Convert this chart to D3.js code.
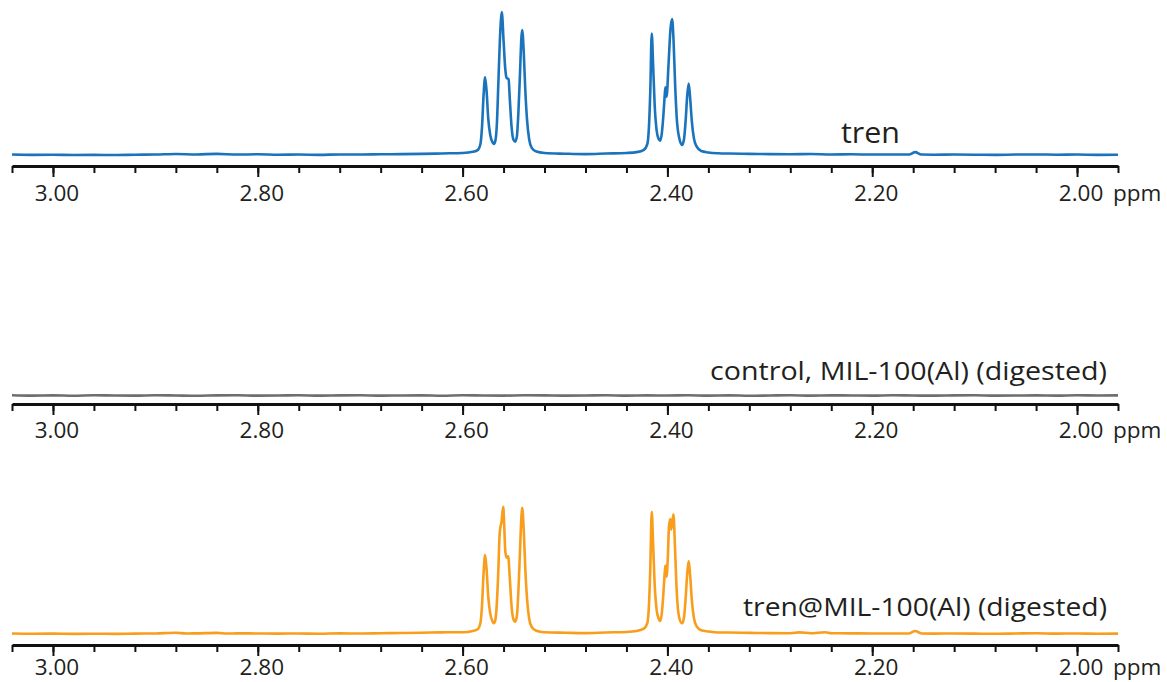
<!DOCTYPE html>
<html>
<head>
<meta charset="utf-8">
<script src="https://cdn.jsdelivr.net/npm/d3@7"></script>
<style>
  html, body { margin: 0; padding: 0; background: #fff; }
  svg { display: block; font-family: "Open Sans", "Noto Sans", sans-serif; }
  .spec { fill: none; stroke-width: 2.6; stroke-linejoin: round; }
  .lbl { fill: #231f20; }
</style>
</head>
<body>
<svg id="chart" width="1167" height="682"></svg>
<script>
// --- data: chemical shift (ppm), relative intensity ---
const ppmDomain = [3.04, 1.96];
const majorTicks = [3.00, 2.80, 2.60, 2.40, 2.20, 2.00];
const unitLabel = 'ppm';
const seriesNames = ['tren', 'control, MIL-100(Al) (digested)', 'tren@MIL-100(Al) (digested)'];

const trenBaseline = [
  [3.04,0.3],[3.02,0.1],[3.00,0.2],[2.98,0.0],[2.96,0.1],[2.94,0.0],[2.92,0.2],[2.90,0.3],
  [2.88,0.7],[2.86,0.4],[2.84,0.8],[2.82,0.3],[2.80,0.5],[2.78,0.2],[2.76,0.3],[2.74,0.1],
  [2.72,0.4],[2.70,0.3],[2.68,0.5],[2.66,0.6],[2.64,0.8],[2.62,1.1],
  [2.50,0.9],[2.48,0.6],[2.46,1.0],
  [2.34,1.0],[2.32,0.8],[2.30,0.6],[2.28,0.5],[2.26,0.7],[2.24,0.4],[2.22,0.5],[2.20,0.3],
  [2.18,0.4],[2.164,0.3],[2.158,2.0],[2.152,0.3],[2.14,0.2],[2.12,0.3],[2.10,0.2],[2.08,0.1],
  [2.06,0.3],[2.04,0.4],[2.02,0.2],[2.00,0.3],[1.98,0.1],[1.96,0.2]
];
const trenPeaksA = [
  [2.600,1.4],[2.590,2.2],[2.585,3.6],[2.5825,8],[2.5810,20],[2.5795,42],[2.578,54.3],[2.5765,44],[2.575,26],
  [2.573,14],[2.5705,8.6],[2.5695,7.7],[2.568,10],[2.5665,22],[2.5650,52],[2.5636,80],[2.5617,100],[2.5600,80],[2.5583,60],
  [2.5571,54],[2.5551,53],[2.5538,38],[2.5522,20],[2.5505,11],[2.5486,9.3],[2.5470,13],[2.5455,30],[2.5440,56],[2.5425,83],
  [2.5418,87.4],[2.5403,72],[2.5388,46],[2.5370,24],[2.5350,11],[2.5325,5],[2.5280,2.4],[2.5200,1.4]
];
const trenPeaksB = [
  [2.440,1.4],[2.430,2.0],[2.423,3.6],[2.4195,8],[2.4180,20],[2.4167,45],[2.4153,85],[2.4140,64],[2.4125,36],
  [2.4105,17],[2.4085,11],[2.4071,10],[2.4055,15],[2.4040,27],[2.4028,40],[2.4020,47.3],[2.4008,40.8],[2.3990,62],[2.3970,88],
  [2.3954,95],[2.3940,80],[2.3925,50],[2.3908,25],[2.3885,12],[2.3857,7],[2.3838,11],[2.3822,24],[2.3806,42],[2.3792,50],
  [2.3778,40],[2.3762,24],[2.3742,12],[2.3715,6],[2.3670,2.8],[2.3600,1.8],[2.3500,1.2]
];

const controlTrace = [
  [3.04,0.2],[3.02,-0.1],[3.00,0.1],[2.98,-0.2],[2.96,0.2],[2.94,0.0],[2.92,-0.1],[2.90,0.2],
  [2.88,0.0],[2.86,-0.2],[2.84,0.1],[2.82,0.2],[2.80,-0.1],[2.78,0.0],[2.76,0.2],[2.74,-0.1],
  [2.72,0.1],[2.70,0.2],[2.68,-0.1],[2.66,0.0],[2.64,0.1],[2.62,-0.2],[2.60,0.2],[2.58,0.0],
  [2.56,-0.1],[2.54,0.2],[2.52,0.1],[2.50,-0.1],[2.48,0.0],[2.46,0.2],[2.44,-0.1],[2.42,0.1],
  [2.40,0.0],[2.38,0.2],[2.36,-0.1],[2.34,0.1],[2.32,-0.2],[2.30,0.0],[2.28,0.2],[2.26,-0.1],
  [2.24,0.1],[2.22,0.0],[2.20,-0.1],[2.18,0.2],[2.16,0.0],[2.14,-0.1],[2.12,0.1],[2.10,0.2],
  [2.08,-0.1],[2.06,0.0],[2.04,0.1],[2.02,-0.1],[2.00,0.2],[1.98,0.0],[1.96,0.1]
];

const loadedBaseline = [
  [3.04,0.4],[3.02,0.2],[3.00,0.3],[2.98,0.1],[2.96,0.2],[2.94,0.1],[2.92,0.3],[2.90,0.4],
  [2.88,1.0],[2.87,0.4],[2.86,0.5],[2.84,0.9],[2.83,0.4],[2.82,0.5],[2.80,0.4],[2.78,0.3],
  [2.76,0.4],[2.74,0.2],[2.72,0.5],[2.70,0.4],[2.68,0.6],[2.66,0.8],[2.64,1.0],[2.62,1.3],
  [2.50,1.0],[2.48,0.7],[2.46,1.2],
  [2.34,1.2],[2.32,0.9],[2.30,0.7],[2.28,0.6],[2.271,1.3],[2.26,0.6],[2.246,1.4],[2.24,0.6],
  [2.22,0.5],[2.20,0.4],[2.18,0.4],[2.164,0.4],[2.158,2.4],[2.152,0.4],[2.14,0.3],[2.12,0.4],
  [2.10,0.3],[2.08,0.2],[2.06,0.4],[2.04,0.6],[2.02,0.3],[2.00,0.4],[1.98,0.2],[1.96,0.3]
];
const loadedPeaksA = [
  [2.600,1.4],[2.590,2.4],[2.585,4.0],[2.5825,9],[2.5810,23],[2.5795,48],[2.578,62],[2.5765,50],[2.575,30],
  [2.573,16],[2.5705,9.5],[2.5695,8.4],[2.568,11],[2.5665,25],[2.5650,52],[2.5640,76],[2.5634,82],[2.5620,88],[2.5603,100],
  [2.5593,84],[2.5583,65],[2.5570,60],[2.5555,61],[2.5540,45],[2.5522,22],[2.5505,12],[2.5486,9.7],[2.5470,14],[2.5455,34],
  [2.5440,64],[2.5425,93],[2.5418,99.2],[2.5403,82],[2.5388,52],[2.5370,27],[2.5350,12],[2.5325,5.5],[2.5280,2.6],
  [2.5200,1.4]
];
const loadedPeaksB = [
  [2.440,1.6],[2.430,2.4],[2.423,4.2],[2.4195,9],[2.4180,23],[2.4167,52],[2.4153,96],[2.4140,72],[2.4125,40],
  [2.4105,19],[2.4085,12],[2.4071,10.2],[2.4055,16],[2.4040,31],[2.4028,46],[2.4020,53.7],[2.4008,45],[2.3995,62],[2.3985,84],
  [2.3971,90.3],[2.3962,82],[2.3941,94],[2.3925,66],[2.3908,32],[2.3885,13],[2.3857,8.4],[2.3838,13],[2.3822,28],[2.3806,48],
  [2.3792,57.3],[2.3778,46],[2.3762,27],[2.3742,13],[2.3715,6],[2.3670,3],[2.3600,2],[2.3500,1.2]
];

// --- layout ---
const panels = [
  { name: seriesNames[0], data: [...trenBaseline, ...trenPeaksA, ...trenPeaksB], color: '#1b74bb', width: 2.6,
    axisY: 166, zeroY: 155, fullY: 12, tickLblY: 200.5,
    label: { x: 841, y: 143, size: 30, len: 59 } },
  { name: seriesNames[1], data: controlTrace, color: '#6d6e71', width: 2.4,
    axisY: 404, zeroY: 395.5, fullY: 252.5, tickLblY: 438,
    label: { x: 710, y: 380, size: 26, len: 397 } },
  { name: seriesNames[2], data: [...loadedBaseline, ...loadedPeaksA, ...loadedPeaksB], color: '#f99d1c', width: 2.6,
    axisY: 645, zeroY: 634, fullY: 506.7, tickLblY: 675,
    label: { x: 743, y: 616, size: 26, len: 364 } }
];

const svg = d3.select('#chart');
const x = d3.scaleLinear().domain(ppmDomain).range([12, 1118]);
const minorTicks = d3.range(3.04, 1.95, -0.04).map(v => +v.toFixed(2));
const fmt = d3.format('.2f');

panels.forEach(p => {
  const y = d3.scaleLinear().domain([0, 100]).range([p.zeroY, p.fullY]);
  const pts = p.data.slice().sort((a, b) => b[0] - a[0]);

  const line = d3.line()
    .x(d => x(d[0]))
    .y(d => y(d[1]))
    .curve(d3.curveMonotoneX);

  svg.append('path')
    .attr('class', 'spec')
    .attr('stroke', p.color)
    .attr('stroke-width', p.width)
    .attr('d', line(pts));

  // axis: minor ticks + thick baseline
  const g = svg.append('g').attr('transform', `translate(0,${p.axisY})`);
  const minorAxis = d3.axisBottom(x).tickValues(minorTicks).tickSize(7).tickSizeOuter(0).tickFormat('');
  g.call(minorAxis);
  g.select('.domain').attr('stroke', '#111').attr('stroke-width', 3);
  g.selectAll('.tick line').attr('stroke', '#111').attr('stroke-width', 2);

  const majorAxis = d3.axisBottom(x).tickValues(majorTicks).tickSize(11).tickSizeOuter(0).tickFormat('');
  const gm = svg.append('g').attr('transform', `translate(0,${p.axisY})`).call(majorAxis);
  gm.select('.domain').remove();
  gm.selectAll('.tick line').attr('stroke', '#111').attr('stroke-width', 2);

  svg.append('g').selectAll('text')
    .data(majorTicks)
    .join('text')
    .attr('class', 'lbl')
    .attr('x', d => x(d) + 4)
    .attr('y', p.tickLblY)
    .attr('text-anchor', 'middle')
    .attr('font-size', 22.5)
    .text(d => fmt(d));

  svg.append('text')
    .attr('class', 'lbl')
    .attr('x', x(2.00) + 36)
    .attr('y', p.tickLblY)
    .attr('font-size', 22.5)
    .text(unitLabel);

  svg.append('text')
    .attr('class', 'lbl')
    .attr('x', p.label.x)
    .attr('y', p.label.y)
    .attr('font-size', p.label.size)
    .attr('textLength', p.label.len)
    .attr('lengthAdjust', 'spacingAndGlyphs')
    .text(p.name);
});
</script>
</body>
</html>
